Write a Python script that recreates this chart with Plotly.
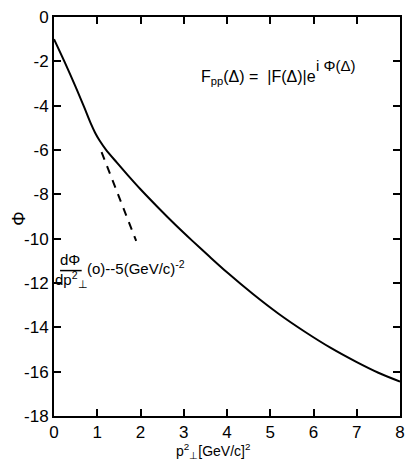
import plotly.graph_objects as go

# Curve Phi(p_perp^2)
p2 = [0.0, 0.25, 0.5, 0.7, 0.85, 0.95, 1.05, 1.2, 1.45, 1.7, 2.0, 2.4, 2.8, 3.2, 3.6, 4.0, 4.6, 5.2, 5.8, 6.4, 7.0, 7.5, 8.0]
phi = [-1.0, -2.05, -3.15, -4.08, -4.8, -5.22, -5.56, -5.98, -6.56, -7.12, -7.77, -8.58, -9.36, -10.1, -10.82, -11.52, -12.5, -13.4, -14.2, -14.93, -15.57, -16.05, -16.45]

# Dashed slope line (dPhi/dp^2 = -5)
slope_x = [1.1, 1.9]
slope_y = [-6.1, -10.1]

x_ticks = [0, 1, 2, 3, 4, 5, 6, 7, 8]
y_ticks = [0, -2, -4, -6, -8, -10, -12, -14, -16, -18]

FONT = "Liberation Sans"

fig = go.Figure()
fig.add_trace(go.Scatter(x=p2, y=phi, mode="lines",
                         line=dict(color="black", width=2, shape="spline", smoothing=0.8),
                         showlegend=False, hoverinfo="skip"))
fig.add_trace(go.Scatter(x=slope_x, y=slope_y, mode="lines",
                         line=dict(color="black", width=2, dash="8px,7px"),
                         showlegend=False, hoverinfo="skip"))

axis_common = dict(showgrid=False, zeroline=False, showline=True, linecolor="black",
                   linewidth=2, ticks="inside", ticklen=7, tickwidth=2, tickcolor="black",
                   mirror="ticks", tickfont=dict(family=FONT, size=17, color="black"))

fig.update_xaxes(range=[0, 8], tickvals=x_ticks, ticktext=[str(v) for v in x_ticks],
                 **axis_common)
fig.update_yaxes(range=[-18, 0], tickvals=y_ticks, ticktext=[str(v) for v in y_ticks],
                 **axis_common)

# y axis title
fig.add_annotation(xref="paper", yref="paper", x=-0.135, y=0.495, text="Φ", showarrow=False,
                   textangle=-90, font=dict(family=FONT, size=18, color="black"))
# x axis title
fig.add_annotation(xref="paper", yref="paper", x=0.46, y=-0.088, yanchor="middle",
                   text="p<sup>2</sup><sub>⊥</sub>[GeV/c]<sup>2</sup>", showarrow=False,
                   font=dict(family=FONT, size=14, color="black"))

# Formula top right
fig.add_annotation(xref="x", yref="y", x=3.35, y=-2.75, xanchor="left",
                   text="F<sub>pp</sub>(Δ) =  |F(Δ)|e", showarrow=False,
                   font=dict(family=FONT, size=16, color="black"))
fig.add_annotation(xref="x", yref="y", x=6.0, y=-2.2, xanchor="left",
                   text="i Φ(Δ)", showarrow=False,
                   font=dict(family=FONT, size=15, color="black"))

# Fraction annotation
fig.add_annotation(xref="x", yref="y", x=0.38, y=-10.95, text="dΦ", showarrow=False,
                   font=dict(family=FONT, size=15, color="black"))
fig.add_shape(type="line", xref="x", yref="y", x0=0.14, x1=0.64, y0=-11.44, y1=-11.44,
              line=dict(color="black", width=1.5))
fig.add_annotation(xref="x", yref="y", x=0.4, y=-11.85, text="dp<sup>2</sup><sub>⊥</sub>",
                   showarrow=False, font=dict(family=FONT, size=15, color="black"))
fig.add_annotation(xref="x", yref="y", x=0.72, y=-11.3, xanchor="left",
                   text="(o)--5(GeV/c)<sup>-2</sup>", showarrow=False,
                   font=dict(family=FONT, size=15, color="black"))

fig.update_layout(width=408, height=460, margin=dict(l=54, r=3, t=17, b=44),
                  plot_bgcolor="white", paper_bgcolor="white",
                  font=dict(family=FONT, color="black"))

fig.write_html("out.html")
